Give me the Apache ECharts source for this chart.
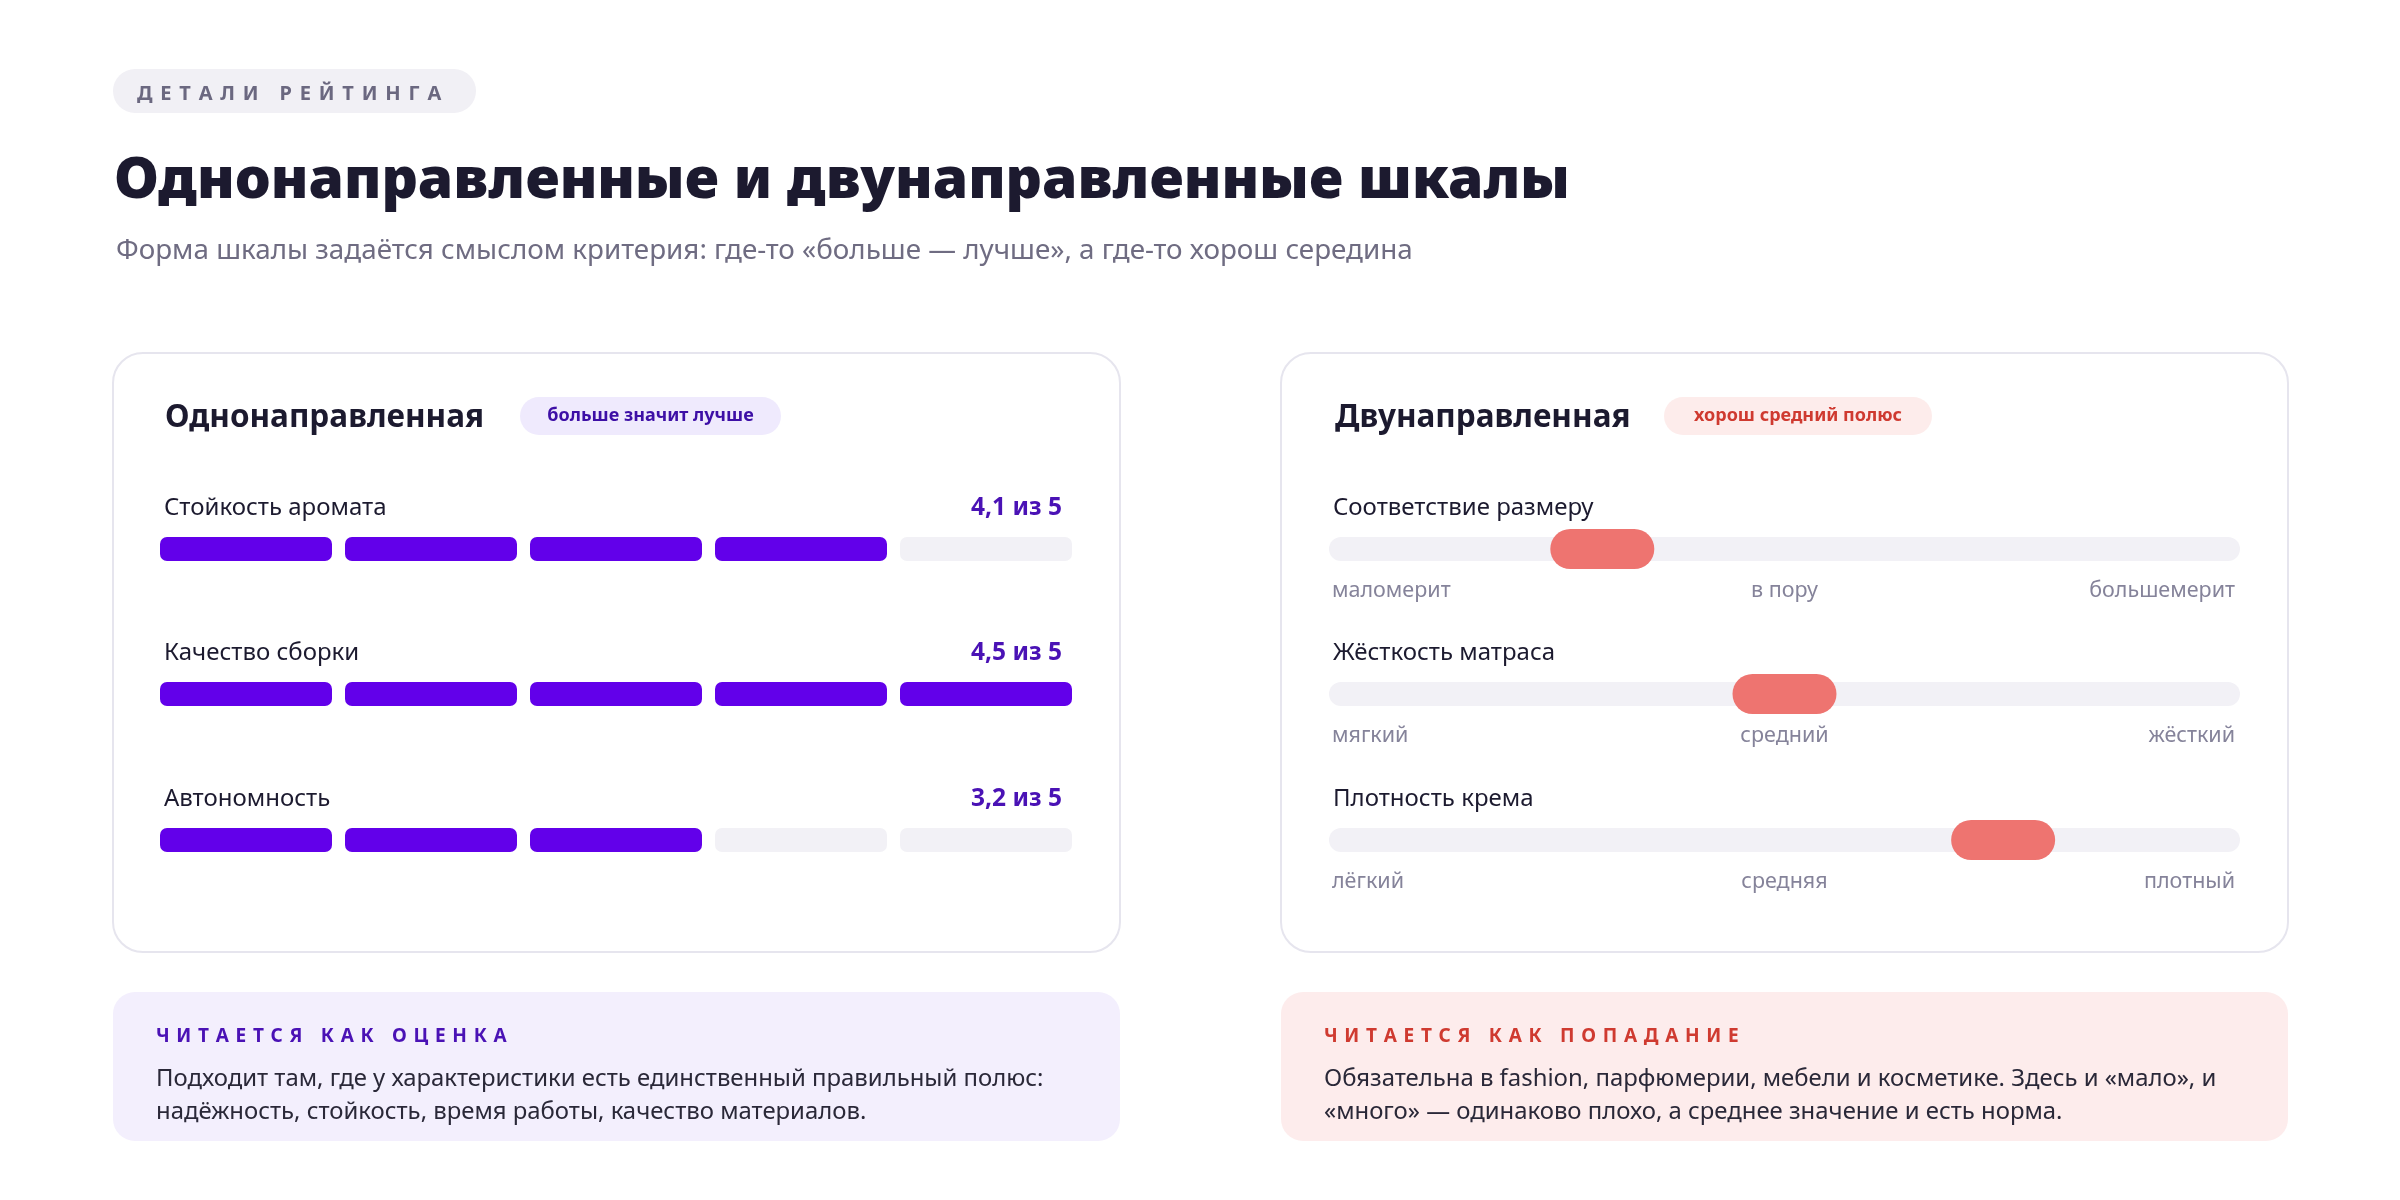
<!DOCTYPE html>
<html><head><meta charset="utf-8">
<script src="https://cdn.jsdelivr.net/npm/echarts@6/dist/echarts.min.js"></script>
<style>html,body{margin:0;padding:0;background:#fff}#c{width:2400px;height:1200px}</style>
</head><body><div id="c"></div>
<script>
// ---- data ----
const eyebrow = 'ДЕТАЛИ РЕЙТИНГА';
const pageTitle = 'Однонаправленные и двунаправленные шкалы';
const pageSubtitle = 'Форма шкалы задаётся смыслом критерия: где-то «больше — лучше», а где-то хорош середина';

const oneWayTitle = 'Однонаправленная';
const oneWayTag = 'больше значит лучше';
const oneWayLabels = ['Стойкость аромата', 'Качество сборки', 'Автономность'];
const oneWayScores = [4.1, 4.5, 3.2];
const oneWayMax = 5;
const segmentCategories = ['1', '2', '3', '4', '5'];

const twoWayTitle = 'Двунаправленная';
const twoWayTag = 'хорош средний полюс';
const twoWayLabels = ['Соответствие размеру', 'Жёсткость матраса', 'Плотность крема'];
const twoWayPositions = [30, 50, 74];            // position on 0..100 scale
const twoWayTicks = [
  ['маломерит', 'в пору', 'большемерит'],
  ['мягкий', 'средний', 'жёсткий'],
  ['лёгкий', 'средняя', 'плотный']
];

const noteHeads = ['ЧИТАЕТСЯ КАК ОЦЕНКА', 'ЧИТАЕТСЯ КАК ПОПАДАНИЕ'];
const noteLines = [
  ['Подходит там, где у характеристики есть единственный правильный полюс:',
   'надёжность, стойкость, время работы, качество материалов.'],
  ['Обязательна в fashion, парфюмерии, мебели и косметике. Здесь и «мало», и',
   '«много» — одинаково плохо, а среднее значение и есть норма.']
];

// ---- style ----
const FONT = '"Noto Sans", "Open Sans", sans-serif';
const C = {
  ink: '#1c1a2f', sub: '#6f6c82', purple: '#6200ea', purpleText: '#4a12b5',
  empty: '#f2f1f6', thumb: '#ee7470', red: '#cf3a30', tick: '#85839a',
  border: '#e6e5ee', body: '#2a2838'
};

const mctx = document.createElement('canvas').getContext('2d');
function txt(text, x, baseline, size, weight, color, align) {
  return {
    type: 'text', x: x, y: baseline - 0.32 * size, silent: true,
    style: { text: text, fill: color, font: weight + ' ' + size + 'px ' + FONT,
      align: align || 'left', verticalAlign: 'middle',
      textAlign: align || 'left', textVerticalAlign: 'middle' }
  };
}
function spaced(text, x, baseline, size, weight, color, spacing) {
  const font = weight + ' ' + size + 'px ' + FONT;
  mctx.font = font;
  const children = [];
  let cx = 0;
  for (const ch of text) {
    children.push({ type: 'text', x: cx, y: 0, silent: true,
      style: { text: ch, fill: color, font: font, align: 'left', verticalAlign: 'middle',
        textAlign: 'left', textVerticalAlign: 'middle' } });
    cx += mctx.measureText(ch).width + spacing;
  }
  return { type: 'group', x: x, y: baseline - 0.32 * size, children: children };
}
function rect(x, y, w, h, r, fill, stroke, lw) {
  return { type: 'rect', silent: true, z: -10,
    shape: { x: x, y: y, width: w, height: h, r: r },
    style: { fill: fill, stroke: stroke || null, lineWidth: lw || 0 } };
}

// ---- layout constants ----
const rowTop = [537, 682, 828];
const cardL = [113, 1281];
const cardW = 1007;

const graphics = [];
// header
graphics.push(rect(113, 69, 363, 44, 22, '#f1f0f5'));
graphics.push(spaced(eyebrow, 137, 101, 20, 'bold', '#6b6880', 7.8));
graphics.push(txt(pageTitle, 114, 200, 57, '900', C.ink));
graphics.push(txt(pageSubtitle, 116, 260, 27.8, 'normal', C.sub));

// cards
cardL.forEach(function (x) { graphics.push(rect(x, 353, cardW, 599, 30, '#ffffff', C.border, 2)); });
graphics.push(txt(oneWayTitle, 165, 428, 31.5, 'bold', C.ink));
graphics.push(rect(520, 397, 261, 38, 19, '#efeafd'));
graphics.push(txt(oneWayTag, 650.5, 422, 18, 'bold', '#3d0fa6', 'center'));
graphics.push(txt(twoWayTitle, 1335, 428, 31.5, 'bold', C.ink));
graphics.push(rect(1664, 397, 268, 38, 19, '#fdeceb'));
graphics.push(txt(twoWayTag, 1798, 422, 18, 'bold', C.red, 'center'));

oneWayLabels.forEach(function (lab, i) {
  graphics.push(txt(lab, 164, rowTop[i] - 21, 24, 'normal', C.ink));
  graphics.push(txt(String(oneWayScores[i]).replace('.', ',') + ' из ' + oneWayMax,
    1062, rowTop[i] - 21, 24.5, 'bold', C.purpleText, 'right'));
});
twoWayLabels.forEach(function (lab, i) {
  graphics.push(txt(lab, 1333, rowTop[i] - 21, 24, 'normal', C.ink));
});

// notes
const noteBg = ['#f3effd', '#fdecec'];
const noteHeadColor = [C.purpleText, C.red];
cardL.forEach(function (x, i) {
  graphics.push(rect(x, 992, cardW, 149, 22, noteBg[i]));
  graphics.push(spaced(noteHeads[i], x + 43, 1043, 19, 'bold', noteHeadColor[i], 6.7));
  noteLines[i].forEach(function (line, k) {
    graphics.push(txt(line, x + 43, 1087 + k * 33, 23.9, 'normal', C.body));
  });
});

// ---- grids / axes / series ----
const grids = [], xAxes = [], yAxes = [], series = [];
oneWayScores.forEach(function (score, i) {
  const filled = Math.round(score);
  grids.push({ left: 153.5, width: 925, top: rowTop[i], height: 24 });
  xAxes.push({ type: 'category', gridIndex: grids.length - 1, data: segmentCategories, show: false });
  yAxes.push({ type: 'value', gridIndex: grids.length - 1, min: 0, max: 1, show: false });
  series.push({
    type: 'bar', xAxisIndex: xAxes.length - 1, yAxisIndex: yAxes.length - 1,
    barWidth: 172, silent: true, animation: false,
    data: segmentCategories.map(function (c, k) {
      return { value: 1, itemStyle: { color: k < filled ? C.purple : C.empty, borderRadius: 7 } };
    })
  });
});
twoWayPositions.forEach(function (pos, i) {
  const ticks = twoWayTicks[i];
  grids.push({ left: 1329, width: 911, top: rowTop[i], height: 24 });
  xAxes.push({
    type: 'value', gridIndex: grids.length - 1, min: 0, max: 100, interval: 50,
    axisLine: { show: false }, axisTick: { show: false }, splitLine: { show: false },
    axisLabel: {
      show: true, margin: 19, color: C.tick, fontSize: 21.5, fontFamily: FONT,
      alignMinLabel: 'left', alignMaxLabel: 'right',
      formatter: function (v) {
        const k = Math.round(v / 50);
        return k === 0 ? '{l|' + ticks[k] + '}' : (k === 2 ? '{r|' + ticks[k] + '}' : ticks[k]);
      },
      rich: {
        l: { padding: [0, 0, 0, 3], color: C.tick, fontSize: 21.5, fontFamily: FONT },
        r: { padding: [0, 5, 0, 0], color: C.tick, fontSize: 21.5, fontFamily: FONT }
      }
    }
  });
  yAxes.push({ type: 'category', gridIndex: grids.length - 1, data: ['scale'], show: false });
  series.push({
    type: 'bar', xAxisIndex: xAxes.length - 1, yAxisIndex: yAxes.length - 1,
    barWidth: 24, silent: true, animation: false,
    data: [100], itemStyle: { color: C.empty, borderRadius: 12 }
  });
  series.push({
    type: 'custom', xAxisIndex: xAxes.length - 1, yAxisIndex: yAxes.length - 1,
    clip: false, silent: true, animation: false, z: 5,
    data: [[pos, 0]],
    renderItem: function (params, api) {
      const p = api.coord([api.value(0), api.value(1)]);
      return { type: 'rect', shape: { x: p[0] - 52, y: p[1] - 20, width: 104, height: 40, r: 20 },
        style: { fill: C.thumb } };
    }
  });
});

const chart = echarts.init(document.getElementById('c'), null, { renderer: 'canvas', width: 2400, height: 1200 });
chart.setOption({
  backgroundColor: '#ffffff',
  animation: false,
  textStyle: { fontFamily: FONT },
  grid: grids, xAxis: xAxes, yAxis: yAxes, series: series,
  graphic: { elements: graphics }
});
</script></body></html>
